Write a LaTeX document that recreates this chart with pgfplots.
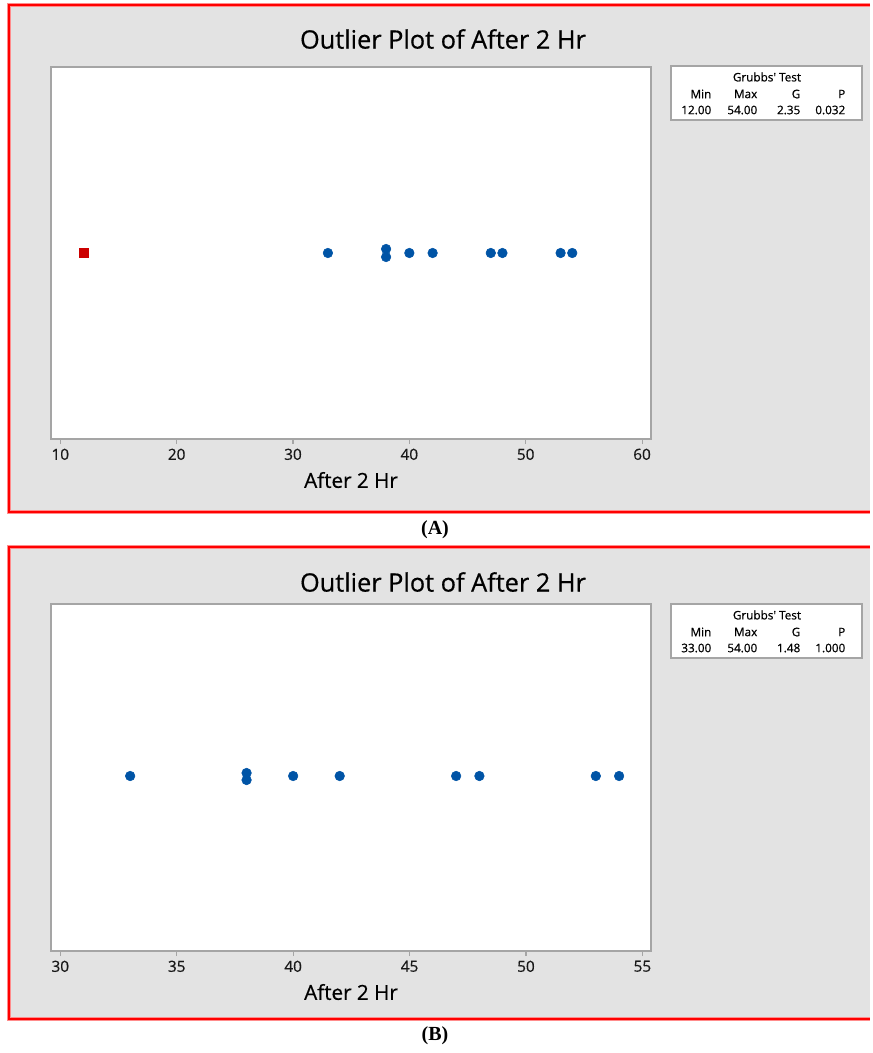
\documentclass[border=0pt]{standalone}
\usepackage{fontspec}
\setmainfont{Open Sans}
\newfontfamily\semib{Open Sans}[FakeBold=0.6]
\newfontfamily\timesfont{Liberation Serif}
\usepackage{pgfplots}
\pgfplotsset{compat=1.18}
\definecolor{panelgray}{RGB}{227,227,227}
\definecolor{mtblue}{RGB}{0,84,166}
\definecolor{mtred}{RGB}{204,0,0}
\definecolor{framegray}{RGB}{165,165,165}
\pgfplotsset{outlier/.style={
  scale only axis, width=450pt,
  ymin=0, ytick=\empty,
  axis line style={framegray, line width=1.2pt},
  xtick style={framegray, line width=0.8pt},
  xtick pos=bottom, tick align=outside, major tick length=3.75pt,
  axis background/.style={fill=white},
  xticklabel style={font=\semib\fontsize{11.5}{13}\selectfont, text=black!90},
  /pgf/number format/assume math mode=true,
  xlabel={After 2 Hr},
  xlabel style={font=\semib\fontsize{15.5}{18}\selectfont, at={(axis description cs:0.5,0)}, anchor=center, yshift=-30.75pt},
}}
\newcommand{\tabfont}{\semib\fontsize{8.8}{10}\selectfont}
\begin{document}
\begin{tikzpicture}
\begin{scope}[x=0.75pt,y=0.75pt]
\fill[white] (0,0) rectangle (870,-1053);
% panels
\fill[panelgray] (9,-5) rectangle (870,-512);
\draw[red!45, line width=3.5pt] (870,-5) -- (9,-5) -- (9,-512) -- (870,-512);
\draw[red, line width=1.8pt] (870,-5) -- (9,-5) -- (9,-512) -- (870,-512);
\fill[panelgray] (9,-547) rectangle (870,-1019);
\draw[red!45, line width=3.5pt] (870,-547) -- (9,-547) -- (9,-1019) -- (870,-1019);
\draw[red, line width=1.8pt] (870,-547) -- (9,-547) -- (9,-1019) -- (870,-1019);
% titles
\node[font=\semib\fontsize{19}{22}\selectfont] at (443,-39) {Outlier Plot of After 2 Hr};
\node[font=\semib\fontsize{19}{22}\selectfont] at (443,-582) {Outlier Plot of After 2 Hr};
\node[font=\timesfont\bfseries\fontsize{15}{17}\selectfont] at (435,-530) {(A)};
\node[font=\timesfont\bfseries\fontsize{15}{17}\selectfont] at (435,-1036) {(B)};
% Grubbs tables
\draw[framegray, fill=white, line width=0.8pt] (671,-66) rectangle (862,-120);
\node[font=\tabfont] at (767,-77) {Grubbs' Test};
\node[font=\tabfont, anchor=east] at (716,-94) {Min};
\node[font=\tabfont, anchor=east] at (762,-94) {Max};
\node[font=\tabfont, anchor=east] at (805,-94) {G};
\node[font=\tabfont, anchor=east] at (850,-94) {P};
\node[font=\tabfont, anchor=east] at (716,-110) {12.00};
\node[font=\tabfont, anchor=east] at (762,-110) {54.00};
\node[font=\tabfont, anchor=east] at (805,-110) {2.35};
\node[font=\tabfont, anchor=east] at (850,-110) {0.032};
\draw[framegray, fill=white, line width=0.8pt] (671,-604) rectangle (862,-658);
\node[font=\tabfont] at (767,-615) {Grubbs' Test};
\node[font=\tabfont, anchor=east] at (716,-632) {Min};
\node[font=\tabfont, anchor=east] at (762,-632) {Max};
\node[font=\tabfont, anchor=east] at (805,-632) {G};
\node[font=\tabfont, anchor=east] at (850,-632) {P};
\node[font=\tabfont, anchor=east] at (716,-648) {33.00};
\node[font=\tabfont, anchor=east] at (762,-648) {54.00};
\node[font=\tabfont, anchor=east] at (805,-648) {1.48};
\node[font=\tabfont, anchor=east] at (850,-648) {1.000};
\end{scope}
% Axis A
\begin{axis}[outlier, at={(38.25pt,-329.25pt)}, anchor=south west,
  height=279pt, ymax=372, xmin=9.2, xmax=60.77, xtick={10,20,30,40,50,60}]
\addplot[only marks, mark=*, mark size=3.6pt, mtblue] coordinates {
 (33,186) (38,190) (38,182) (40,186) (42,186) (47,186) (48,186) (53,186) (54,186)};
\addplot[only marks, mark=square*, mark size=3.4pt, mtred] coordinates {(12,186)};
\end{axis}
% Axis B
\begin{axis}[outlier, at={(38.25pt,-713.25pt)}, anchor=south west,
  height=260.25pt, ymax=347, xmin=29.6, xmax=55.37, xtick={30,35,40,45,50,55}]
\addplot[only marks, mark=*, mark size=3.6pt, mtblue] coordinates {
 (33,175) (38,178) (38,171) (40,175) (42,175) (47,175) (48,175) (53,175) (54,175)};
\end{axis}
\end{tikzpicture}
\end{document}
